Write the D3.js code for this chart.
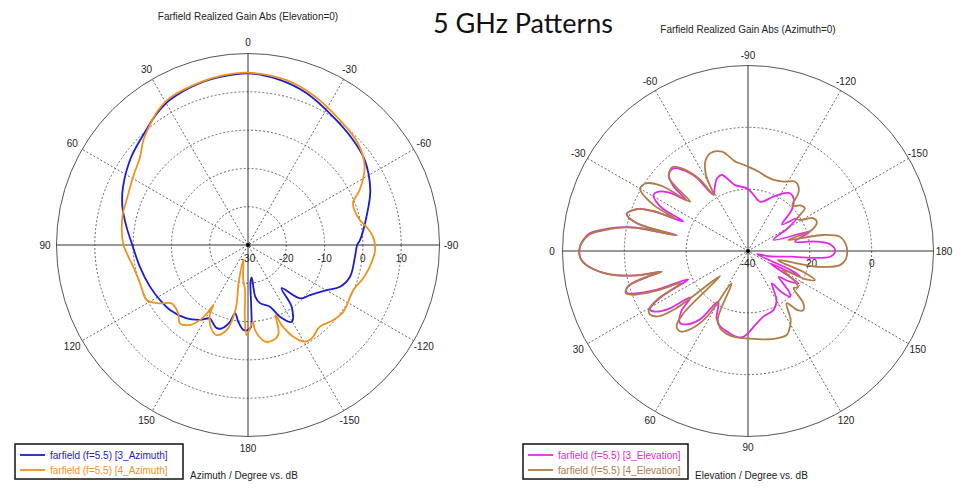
<!DOCTYPE html>
<html>
<head>
<meta charset="utf-8">
<script src="https://cdn.jsdelivr.net/npm/d3@7"></script>
<style>
  body { margin: 0; background: #fff; }
  text { font-family: "Liberation Sans", Arial, sans-serif; fill: #222; }
</style>
</head>
<body>
<svg id="chart" width="967" height="496"></svg>
<script>
// angle tick labels (degrees)
const azTicks = [0, 30, 60, 90, 120, 150, 180, -150, -120, -90, -60, -30];
const elTicks = [0, 30, 60, 90, 120, 150, 180, -150, -120, -90, -60, -30];

// radial ticks (dB)
const azRings = [-20, -10, 0, 10];
const azRadLabels = [-30, -20, -10, 0, 10];
const elRings = [-20, 0];
const elRadLabels = [-40, -20, 0];

// [angle deg, gain dB], in drawing order
const az3 = [[0,14.8],[8,14.5],[16.6,14.1],[28.4,13.0],[35,11.7],[41.5,10.1],[52.9,8.2],[65,6.0],[73,4.3],[81.4,2.1],[90,0.2],
  [101.4,-1.2],[113,-2.2],[122,-2.9],[129.8,-3.5],[140.1,-5.0],[147.4,-6.8],[152.6,-8.4],[156,-7.6],[159.4,-6.8],[162.5,-7.2],
  [166.8,-9.4],[169.2,-11.9],[172.8,-9.8],[176.8,-7.8],[180,-7.8],[-178,-8.5],[-177,-14],[-176,-20.5],[-173.5,-21.4],[-172,-16.4],
  [-168.4,-14.5],[-160.4,-12.9],[-156,-9.5],[-150.3,-6.9],[-144.7,-10.3],[-142.1,-15.7],[-135.7,-10.5],[-128.9,-9.2],[-119.8,-6.3],
  [-114.4,-3.6],[-107.3,-2.1],[-96.2,-1.9],[-90,-1.5],[-87.4,-0.7],[-76.6,1.8],[-65.8,5.0],[-53.9,7.7],[-45,8.8],[-33.5,10.2],
  [-21,12.5],[-10.9,13.9]];

const az4 = [[0,15.0],[8,14.8],[16,14.3],[28,13.5],[34,12.2],[39.2,10.5],[44.9,8.7],[50.7,6.4],[59.2,4.9],[69.6,3.8],[75.8,3.7],
  [83,3.2],[90,2.5],[100.7,0.5],[109.5,-0.1],[118.5,0.1],[123.5,-2.4],[127.4,-4.9],[134.4,-4.5],[139,-2.9],[144,-4.2],[147.4,-6.8],
  [149.2,-9.7],[150,-11.9],[151.5,-9],[156.9,-5.9],[160.8,-5.1],[165.9,-7.1],[169.1,-12.7],[166,-20],[162.6,-25.9],[172,-21],
  [176.2,-18.2],[177.5,-11],[179.2,-6.5],[-176.3,-9.9],[-175.3,-7.7],[-170,-4.4],[-165,-4.3],[-161,-5.5],[-158.5,-10.3],[-157.2,-7.3],
  [-153.7,-3.3],[-149.5,-0.7],[-145.7,-0.5],[-138.6,-1.6],[-131.3,-0.3],[-125,0.4],[-113.1,-0.1],[-106.1,1.3],[-100.1,2.3],
  [-92.3,3.2],[-86.2,2.7],[-81,1.2],[-77.4,-0.1],[-68.3,-0.5],[-63.8,2.5],[-56.1,6.7],[-47.2,9.1],[-36.3,10.5],[-23.4,12.7],[-13.1,14.2]];

const el3 = [[0,14.6],[3,14.0],[6,11.3],[9.6,5.3],[12.3,-3.1],[13.5,-11.3],[14.5,-6],[16.5,0.5],[19,1.5],[21,-2],[23,-8],[25.4,-18.6],
  [28,-8],[30.7,-3.1],[33,-4],[36,-8],[39,-16],[42,-11],[46.5,-8.0],[50,-9],[55,-13],[59.6,-21],[65,-16],[69.5,-14.1],[76,-13],
  [82.5,-12],[87,-12.2],[96.9,-16.4],[103.1,-18.2],[113.2,-19.2],[120,-21.5],[126.3,-27],[129,-23],[132.6,-19.9],[135,-21],[140,-27],
  [143,-24],[147.3,-20.6],[150.8,-31.8],[153.7,-21.2],[156,-25],[161,-37],[166,-33],[172.3,-26.3],[176,-13.4],[180,-11.8],
  [-175.3,-13.4],[-172,-18],[-168.8,-24.5],[-162.7,-19],[-156.5,-31],[-150,-25],[-146,-21],[-142,-26],[-136.8,-20.6],[-131,-17.5],
  [-126,-16.9],[-121.5,-18.1],[-115,-20.6],[-104,-23.6],[-95,-21.5],[-89,-19.7],[-79,-18.3],[-71,-14.0],[-67,-14.4],[-62,-17],
  [-58.5,-18.7],[-55,-11],[-52.4,-7.6],[-48,-4.0],[-43.8,-4.5],[-41,-8],[-39.5,-14],[-37,-9],[-33.6,-5.3],[-30.7,-4.5],[-27,-8],
  [-24.5,-17],[-23,-8],[-21,-2.0],[-17,1.0],[-14,-3],[-12.4,-16.4],[-11.9,-4.3],[-11.1,0],[-9.3,5.3],[-6.4,11.5],[-3,13.8]];

const el4 = [[0,14.6],[3,14.0],[6,11.3],[9.6,5.3],[12.3,-3.1],[13.5,-11.3],[14.5,-5],[16.3,0.4],[19,1.8],[21,-0.5],[23.5,-8],[25.5,-16],
  [28,-7],[30.5,-2.8],[32.9,-2.2],[36,-4],[38.5,-10],[41.8,-27.9],[44,-11],[46.4,-6.5],[50,-6],[54,-9],[58,-15],[63.2,-28.3],[66,-16],
  [70,-13.5],[76,-12.3],[82.5,-11.8],[90,-11.7],[100,-11],[108,-10.3],[114.7,-10.1],[119,-12],[122,-14],[126.5,-19],[130,-15],
  [133.1,-13.8],[136.6,-15.4],[141,-21],[144,-20],[147,-22],[151.7,-27],[154,-19],[156.6,-16.4],[159,-20],[163,-30],[167.1,-17.2],
  [171.3,-9.9],[175,-8.3],[180,-7.9],[-176,-8.3],[-171.2,-9.9],[-168,-15.1],[-164.7,-26.5],[-161.8,-18.3],[-156.9,-15.8],[-153,-16.5],
  [-150,-19.9],[-147,-21],[-143,-17],[-139,-17.5],[-134.5,-19.5],[-131,-15.2],[-128,-13.5],[-124,-12.9],[-117,-14.8],[-110,-15.5],
  [-104,-15.2],[-97,-14],[-90,-12.7],[-86,-11.8],[-81.9,-10.8],[-75.3,-6.8],[-68.9,-6.1],[-64.4,-8.0],[-61,-12],[-58.5,-18.7],
  [-56,-12],[-52,-6.5],[-48,-3.5],[-43,-5],[-40.5,-15.4],[-37,-5],[-33.8,-0.6],[-30,0.3],[-26,-6],[-24,-14],[-23,-7],[-21,-2.0],
  [-17,1.0],[-14,-3],[-12.4,-16.4],[-12,-5],[-11,0],[-9,5.3],[-6,11.5],[-3,13.8]];

const svg = d3.select('#chart');

svg.append('text')
  .attr('x', 523).attr('y', 32.5)
  .attr('text-anchor', 'middle')
  .style('font-family', 'Lato, "Open Sans", sans-serif')
  .style('font-size', '27px')
  .style('fill', '#111')
  .text('5 GHz Patterns');

function polar(opt) {
  const g = svg.append('g').attr('transform', `translate(${opt.cx},${opt.cy})`);
  const r = d3.scaleLinear().domain(opt.domain).range([0, opt.radius]).clamp(true);
  // angle in radians, clockwise from 12 o'clock (d3 convention)
  const a = d3.scaleLinear().domain([0, 360]).range([opt.rot, opt.rot - 2 * Math.PI]);
  const R = opt.radius;

  svg.append('text')
    .attr('x', opt.cx).attr('y', opt.titleY)
    .attr('text-anchor', 'middle')
    .style('font-size', '10px')
    .text(opt.title);

  g.selectAll('.ring')
    .data(opt.rings)
    .join('circle')
      .attr('class', 'ring')
      .attr('r', d => r(d))
      .attr('fill', 'none')
      .attr('stroke', '#555')
      .attr('stroke-width', 0.9)
      .attr('stroke-dasharray', '2,2');

  g.append('circle')
    .attr('r', R)
    .attr('fill', 'none')
    .attr('stroke', '#555')
    .attr('stroke-width', 1);

  // spokes every 30 degrees, screen axes solid
  g.selectAll('.spoke')
    .data(d3.range(0, 180, 30))
    .join('line')
      .attr('class', 'spoke')
      .attr('x1', d => -R * Math.sin(a(d)))
      .attr('y1', d => R * Math.cos(a(d)))
      .attr('x2', d => R * Math.sin(a(d)))
      .attr('y2', d => -R * Math.cos(a(d)))
      .attr('stroke', d => d % 90 === 0 ? '#333' : '#555')
      .attr('stroke-width', d => d % 90 === 0 ? 1 : 0.9)
      .attr('stroke-dasharray', d => d % 90 === 0 ? null : '2,2');

  g.selectAll('.atick')
    .data(opt.ticks)
    .join('text')
      .attr('class', 'atick')
      .attr('x', d => opt.labelR * Math.sin(a(d)))
      .attr('y', d => -opt.labelR * Math.cos(a(d)))
      .attr('dy', '0.35em')
      .attr('text-anchor', 'middle')
      .style('font-size', '10px')
      .text(d => d);

  g.selectAll('.rtick')
    .data(opt.radLabels)
    .join('text')
      .attr('class', 'rtick')
      .attr('x', d => r(d))
      .attr('y', opt.radLabelY)
      .attr('text-anchor', 'middle')
      .style('font-size', '10px')
      .text(d => d);

  const line = d3.lineRadial()
    .angle(d => a(d[0]))
    .radius(d => r(d[1]))
    .curve(d3.curveCatmullRomClosed.alpha(0.5));

  g.selectAll('.series')
    .data(opt.series)
    .join('path')
      .attr('class', 'series')
      .attr('d', d => line(d.values))
      .attr('fill', 'none')
      .attr('stroke', d => d.color)
      .attr('stroke-width', 1.8)
      .attr('stroke-linejoin', 'round');

  g.append('circle').attr('r', 2).attr('fill', '#000');

  // legend
  const lg = svg.append('g').attr('transform', `translate(${opt.legend.x},${opt.legend.y})`);
  lg.append('rect')
    .attr('width', opt.legend.w).attr('height', 35)
    .attr('fill', '#fff').attr('stroke', '#111').attr('stroke-width', 1.5);
  opt.series.forEach((s, i) => {
    const y = 11 + i * 15;
    lg.append('line')
      .attr('x1', 5).attr('x2', 30).attr('y1', y).attr('y2', y)
      .attr('stroke', s.color).attr('stroke-width', 1.8);
    lg.append('text')
      .attr('x', 35).attr('y', y + 3.5)
      .style('font-size', '10px')
      .style('fill', s.color)
      .text(s.name);
  });
  svg.append('text')
    .attr('x', opt.legend.x + opt.legend.w + 7).attr('y', opt.legend.y + 35)
    .style('font-size', '10px')
    .text(opt.axisTitle);
}

polar({
  cx: 248, cy: 245, radius: 191.5, domain: [-30, 20], rot: 0,
  title: 'Farfield Realized Gain Abs (Elevation=0)', titleY: 19.5,
  rings: azRings, radLabels: azRadLabels, radLabelY: 17, ticks: azTicks, labelR: 203,
  series: [
    { name: 'farfield (f=5.5) [3_Azimuth]', color: '#1c1cc8', values: az3 },
    { name: 'farfield (f=5.5) [4_Azimuth]', color: '#f0921e', values: az4 }
  ],
  legend: { x: 15, y: 444, w: 168 },
  axisTitle: 'Azimuth / Degree vs. dB'
});

polar({
  cx: 748, cy: 251, radius: 185.5, domain: [-40, 20], rot: -Math.PI / 2,
  title: 'Farfield Realized Gain Abs (Azimuth=0)', titleY: 32.5,
  rings: elRings, radLabels: elRadLabels, radLabelY: 15.5, ticks: elTicks, labelR: 196,
  series: [
    { name: 'farfield (f=5.5) [3_Elevation]', color: '#e628e6', values: el3 },
    { name: 'farfield (f=5.5) [4_Elevation]', color: '#b07c46', values: el4 }
  ],
  legend: { x: 523, y: 444, w: 165 },
  axisTitle: 'Elevation / Degree vs. dB'
});
</script>
</body>
</html>
